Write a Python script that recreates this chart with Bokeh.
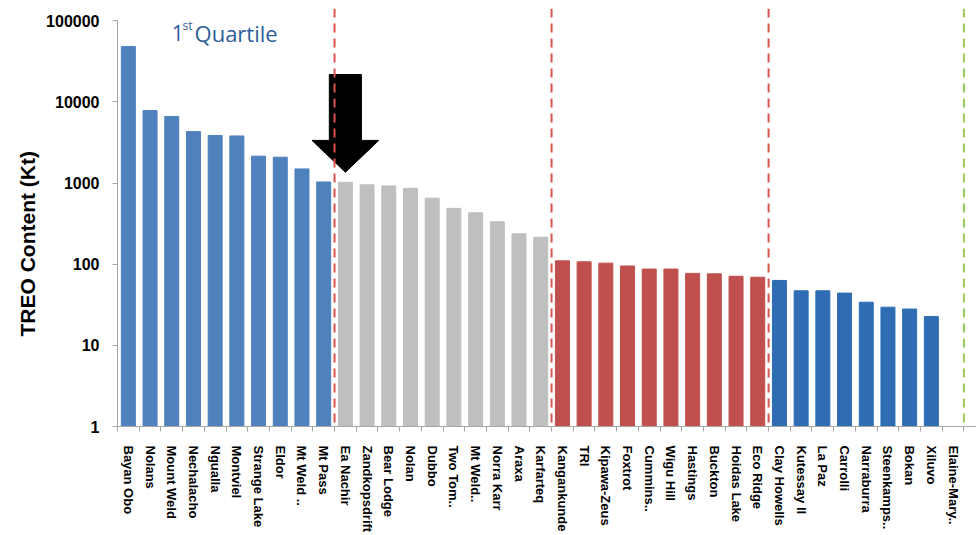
from math import pi
from bokeh.plotting import figure
from bokeh.models import Range1d, FixedTicker, Span, Label, Title, PrintfTickFormatter, ColumnDataSource
from bokeh.embed import file_html
from bokeh.resources import INLINE

# ---- data ----
names = ["Bayan Obo", "Nolans", "Mount Weld", "Nechalacho", "Ngualla", "Montviel",
         "Strange Lake", "Eldor", "Mt Weld ..", "Mt Pass",
         "Ea Nachir", "Zandkopsdrift", "Bear Lodge", "Nolan", "Dubbo", "Two Tom..",
         "Mt Weld..", "Norra Karr", "Araxa", "Karfarteq",
         "Kangankunde", "TRI", "Kipawa-Zeus", "Foxtrot", "Cummins..", "Wigu Hill",
         "Hastings", "Buckton", "Hoidas Lake", "Eco Ridge",
         "Clay Howells", "Kutessay II", "La Paz", "Carrolli", "Narraburra",
         "Steenkamps..", "Bokan", "Xiluvo", "Elaine-Mary.."]
values = [48200, 7800, 6600, 4300, 3850, 3800, 2140, 2080, 1490, 1030,
          1020, 950, 920, 860, 650, 487, 430, 333, 237, 215,
          110, 107, 103, 95, 87, 87, 77, 76, 71, 69,
          63, 47, 47, 44, 34, 29.5, 28, 22.6, 1]
group_sizes = [10, 10, 10, 9]
group_colors = ["#4F81BD", "#BFBFBF", "#C0504D", "#2E6DB4"]
y_ticks = [1, 10, 100, 1000, 10000, 100000]

colors = []
for size, col in zip(group_sizes, group_colors):
    colors += [col] * size
xs = [i + 0.5 for i in range(len(names))]
boundaries = []
acc = 0
for s in group_sizes:
    acc += s
    boundaries.append(acc)

src = ColumnDataSource(dict(x=xs, top=values, color=colors))

p = figure(width=976, height=535, output_backend="svg", toolbar_location=None,
           y_axis_type="log", x_range=Range1d(0, 39.58), y_range=Range1d(1, 10 ** 5.15),
           min_border_left=117, min_border_right=0, min_border_top=8, min_border_bottom=108)
p.outline_line_color = None
p.grid.visible = False

p.vbar(x="x", top="top", bottom=1, width=0.645, color="color", source=src)

# separators
for b in boundaries[:-1]:
    p.add_layout(Span(location=b, dimension="height", line_color="#D9534F",
                      line_width=2, line_dash="9 6"))
p.add_layout(Span(location=boundaries[-1], dimension="height", line_color="#9BC85A",
                  line_width=2, line_dash="9 6"))

# arrow pointing at first grey bar
cx = boundaries[0] + 0.5
tip_y = values[boundaries[0]] * 1.33
base_y = tip_y * 2.47
top_y = tip_y * 16.0
hw, sw = 1.54, 0.74
p.patch([cx - sw, cx + sw, cx + sw, cx + hw, cx, cx - hw, cx - sw],
        [top_y, top_y, base_y, base_y, tip_y, base_y, base_y],
        color="black")

# "1st Quartile"
qc = "#2F5D9B"
p.add_layout(Label(x=2.5, y=69600, text="1", text_color=qc, text_font="Open Sans",
                   text_font_size="21px", text_baseline="middle"))
p.add_layout(Label(x=3.0, y=86000, text="st", text_color=qc, text_font="Open Sans",
                   text_font_size="12px", text_baseline="middle"))
p.add_layout(Label(x=3.55, y=69600, text="Quartile", text_color=qc, text_font="Open Sans",
                   text_font_size="22px", text_baseline="middle"))

# y axis
ya = p.yaxis[0]
ya.ticker = FixedTicker(ticks=y_ticks, minor_ticks=[])
ya.formatter = PrintfTickFormatter(format="%d")
ya.bounds = (1, 100000)
ya.axis_line_color = "#A6A6A6"
ya.major_tick_line_color = "#A6A6A6"
ya.major_tick_out = 5
ya.major_tick_in = 0
ya.minor_tick_line_color = None
ya.major_label_text_font = "Liberation Sans"
ya.major_label_text_font_style = "bold"
ya.major_label_text_font_size = "16px"
ya.major_label_text_color = "black"
ya.major_label_standoff = 13

p.add_layout(Title(text="TREO Content (Kt)", align="left", offset=90,
                   text_font="Liberation Sans", text_font_style="bold",
                   text_font_size="21px", text_color="black"), "left")

# x axis
xa = p.xaxis[0]
xa.ticker = FixedTicker(ticks=xs, minor_ticks=list(range(len(names) + 1)))
xa.major_label_overrides = {x: n for x, n in zip(xs, names)}
xa.major_label_orientation = "vertical"
xa.axis_line_color = "#A6A6A6"
xa.major_tick_line_color = None
xa.major_tick_out = 0
xa.major_tick_in = 0
xa.minor_tick_line_color = "#A6A6A6"
xa.minor_tick_out = 5
xa.minor_tick_in = 0
xa.major_label_text_font = "Liberation Sans"
xa.major_label_text_font_style = "bold"
xa.major_label_text_font_size = "13px"
xa.major_label_text_color = "black"
xa.major_label_standoff = 14

open("out.html", "w").write(file_html(p, INLINE))
